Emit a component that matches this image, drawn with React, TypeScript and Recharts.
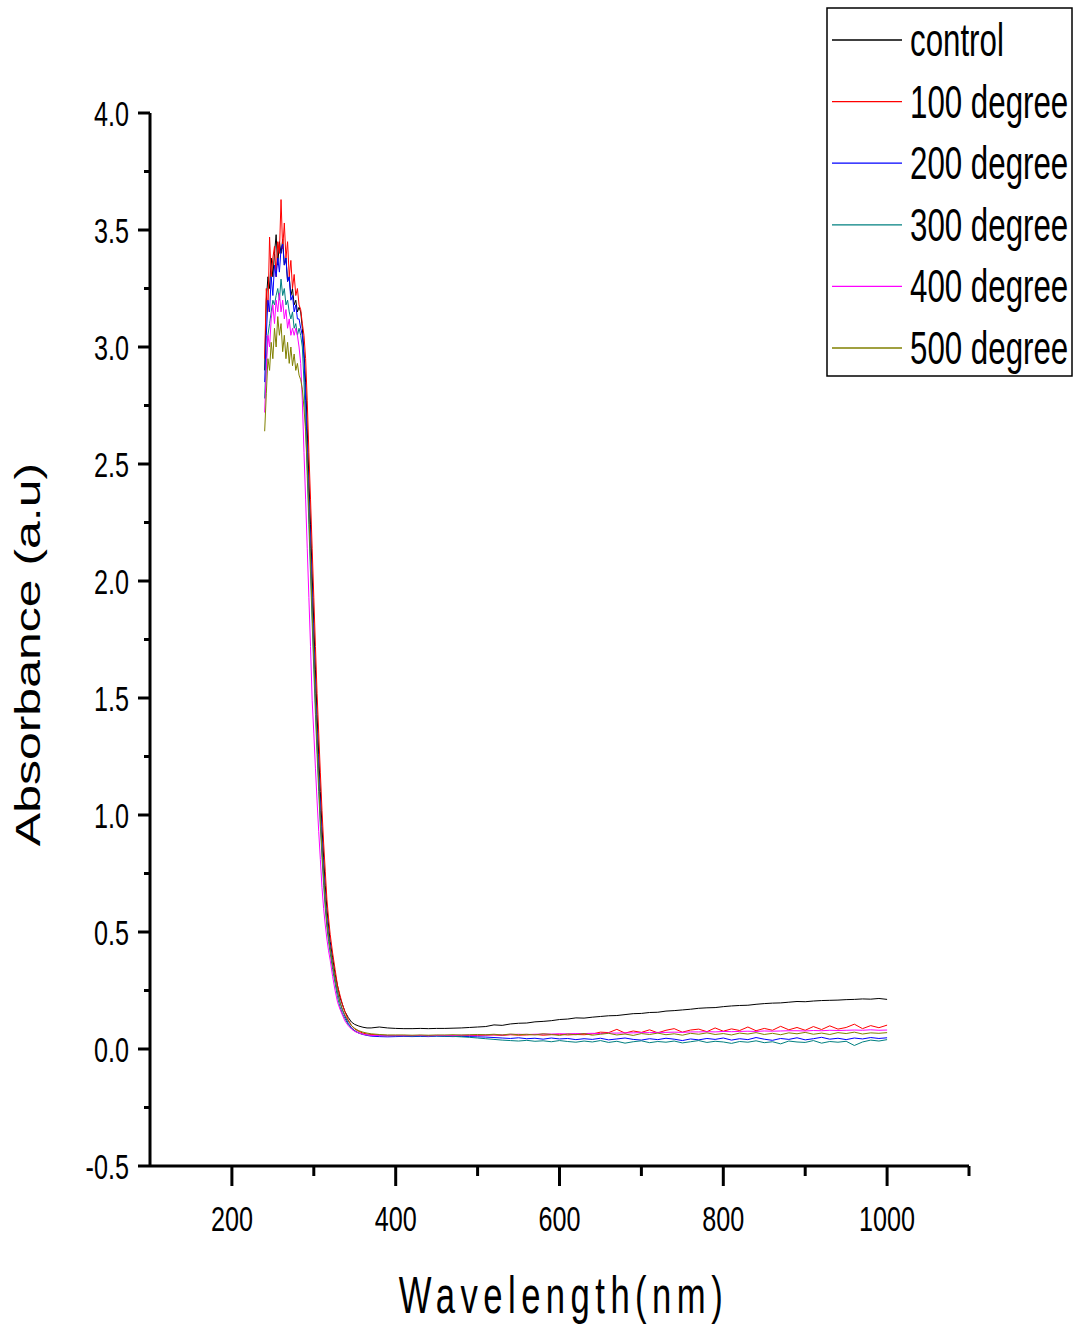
import React from 'react';
import { LineChart, Line, XAxis, YAxis } from 'recharts';

const wavelengths = [
  240, 242, 244, 246, 248, 250, 252, 254, 256, 258,
  260, 262, 264, 266, 268, 270, 272, 274, 276, 278,
  280, 282, 284, 286, 288, 290, 292, 294, 296, 298,
  300, 302, 304, 306, 308, 310, 312, 314, 316, 318,
  320,
  323, 326, 329, 332, 335, 338, 342, 346, 350, 355, 360, 365, 370, 380, 390, 400,
  410, 420, 430, 440, 450, 460, 470, 480, 490, 500,
  510, 520, 530, 540, 550, 560, 570, 580, 590, 600,
  610, 620, 630, 640, 650, 660, 670, 680, 690, 700,
  710, 720, 730, 740, 750, 760, 770, 780, 790, 800,
  810, 820, 830, 840, 850, 860, 870, 880, 890, 900,
  910, 920, 930, 940, 950, 960, 970, 980, 990, 1000,
];

const control = [
  2.90, 3.20, 3.30, 3.25, 3.38, 3.30, 3.40, 3.48, 3.35, 3.45,
  3.40, 3.46, 3.35, 3.38, 3.28, 3.30, 3.22, 3.25, 3.18, 3.20,
  3.15, 3.17, 3.15, 3.08, 2.98, 2.85, 2.65, 2.44, 2.24, 2.03,
  1.82, 1.62, 1.43, 1.26, 1.10, 0.95, 0.82, 0.70, 0.60, 0.53,
  0.46,
  0.39, 0.32, 0.27, 0.22, 0.19, 0.16, 0.135, 0.115, 0.105, 0.098, 0.093, 0.090, 0.090, 0.094, 0.090, 0.088,
  0.087, 0.087, 0.088, 0.087, 0.088, 0.088, 0.089, 0.090, 0.092, 0.094,
  0.096, 0.103, 0.101, 0.107, 0.110, 0.111, 0.116, 0.118, 0.121, 0.126,
  0.128, 0.133, 0.132, 0.136, 0.139, 0.142, 0.143, 0.147, 0.151, 0.152,
  0.156, 0.157, 0.162, 0.164, 0.167, 0.170, 0.174, 0.176, 0.177, 0.181,
  0.184, 0.186, 0.187, 0.191, 0.194, 0.196, 0.197, 0.200, 0.203, 0.202,
  0.205, 0.207, 0.208, 0.209, 0.211, 0.212, 0.214, 0.213, 0.216, 0.212,
];

const deg100 = [
  2.95, 3.25, 3.15, 3.47, 3.30, 3.38, 3.43, 3.30, 3.45, 3.40,
  3.63, 3.42, 3.53, 3.38, 3.45, 3.30, 3.37, 3.25, 3.31, 3.22,
  3.25, 3.18, 3.16, 3.10, 3.05, 2.95, 2.77, 2.55, 2.35, 2.14,
  1.93, 1.72, 1.52, 1.35, 1.18, 1.02, 0.88, 0.76, 0.64, 0.56,
  0.49,
  0.41, 0.34, 0.27, 0.23, 0.19, 0.16, 0.125, 0.10, 0.085, 0.075, 0.068, 0.064, 0.062, 0.060, 0.058, 0.058,
  0.058, 0.057, 0.058, 0.057, 0.058, 0.057, 0.058, 0.057, 0.058, 0.058,
  0.059, 0.060, 0.058, 0.061, 0.059, 0.060, 0.062, 0.059, 0.061, 0.063,
  0.060, 0.062, 0.061, 0.064, 0.072, 0.070, 0.084, 0.068, 0.077, 0.071,
  0.082, 0.069, 0.080, 0.087, 0.072, 0.081, 0.085, 0.074, 0.090, 0.076,
  0.086, 0.079, 0.094, 0.078, 0.088, 0.080, 0.097, 0.082, 0.092, 0.080,
  0.096, 0.083, 0.099, 0.085, 0.092, 0.106, 0.087, 0.100, 0.091, 0.102,
];

const deg200 = [
  2.85, 3.05, 3.20, 3.15, 3.30, 3.22, 3.35, 3.30, 3.38, 3.32,
  3.42, 3.44, 3.35, 3.38, 3.28, 3.30, 3.20, 3.22, 3.15, 3.18,
  3.12, 3.12, 3.08, 3.05, 2.95, 2.77, 2.55, 2.35, 2.14, 1.93,
  1.72, 1.52, 1.35, 1.18, 1.02, 0.88, 0.76, 0.64, 0.56, 0.49,
  0.44,
  0.36, 0.30, 0.24, 0.20, 0.165, 0.14, 0.11, 0.09, 0.078, 0.068, 0.062, 0.058, 0.055, 0.053, 0.052, 0.053,
  0.054, 0.053, 0.054, 0.053, 0.055, 0.054, 0.053, 0.054, 0.053, 0.052,
  0.051, 0.049, 0.047, 0.045, 0.048, 0.044, 0.046, 0.042, 0.047, 0.043,
  0.045, 0.040, 0.044, 0.041, 0.046, 0.039, 0.043, 0.047, 0.041, 0.038,
  0.044, 0.040, 0.046, 0.042, 0.036, 0.043, 0.039, 0.045, 0.041, 0.047,
  0.038, 0.044, 0.040, 0.049, 0.042, 0.037, 0.045, 0.041, 0.048, 0.039,
  0.044, 0.050, 0.042, 0.046, 0.040, 0.047, 0.043, 0.049, 0.045, 0.048,
];

const deg300 = [
  2.78, 2.95, 3.05, 3.10, 3.15, 3.20, 3.18, 3.22, 3.25, 3.20,
  3.29, 3.22, 3.25, 3.18, 3.20, 3.15, 3.12, 3.15, 3.08, 3.10,
  3.05, 3.08, 3.05, 3.00, 2.85, 2.66, 2.45, 2.24, 2.03, 1.82,
  1.62, 1.43, 1.26, 1.10, 0.95, 0.82, 0.70, 0.60, 0.52, 0.46,
  0.41,
  0.34, 0.28, 0.22, 0.18, 0.15, 0.13, 0.105, 0.088, 0.077, 0.068, 0.063, 0.060, 0.058, 0.057, 0.056, 0.056,
  0.056, 0.055, 0.056, 0.055, 0.056, 0.055, 0.054, 0.052, 0.050, 0.047,
  0.044, 0.041, 0.038, 0.036, 0.034, 0.037, 0.033, 0.035, 0.031, 0.036,
  0.032, 0.029, 0.034, 0.030, 0.036, 0.028, 0.033, 0.025, 0.031, 0.035,
  0.027, 0.032, 0.029, 0.034, 0.026, 0.031, 0.036, 0.028, 0.033, 0.030,
  0.024, 0.032, 0.029, 0.035, 0.027, 0.031, 0.022, 0.034, 0.030, 0.028,
  0.036, 0.025, 0.032, 0.029, 0.033, 0.015, 0.030, 0.038, 0.034, 0.040,
];

const deg400 = [
  2.72, 2.90, 3.05, 3.00, 3.12, 3.18, 3.10, 3.20, 3.15, 3.23,
  3.15, 3.20, 3.12, 3.16, 3.08, 3.12, 3.05, 3.08, 3.05, 3.08,
  3.05, 3.00, 2.93, 2.77, 2.55, 2.35, 2.14, 1.93, 1.72, 1.49,
  1.35, 1.20, 1.06, 0.93, 0.81, 0.69, 0.60, 0.53, 0.47, 0.42,
  0.38,
  0.31, 0.25, 0.20, 0.17, 0.145, 0.12, 0.10, 0.085, 0.075, 0.068, 0.063, 0.060, 0.058, 0.057, 0.056, 0.057,
  0.057, 0.057, 0.058, 0.056, 0.058, 0.058, 0.057, 0.059, 0.059, 0.060,
  0.060, 0.061, 0.060, 0.062, 0.063, 0.062, 0.063, 0.064, 0.064, 0.065,
  0.065, 0.066, 0.066, 0.067, 0.066, 0.068, 0.068, 0.069, 0.069, 0.070,
  0.070, 0.071, 0.071, 0.072, 0.071, 0.073, 0.073, 0.074, 0.073, 0.075,
  0.074, 0.075, 0.076, 0.075, 0.077, 0.076, 0.077, 0.078, 0.078, 0.077,
  0.079, 0.078, 0.080, 0.079, 0.080, 0.081, 0.080, 0.082, 0.080, 0.081,
];

const deg500 = [
  2.64, 2.80, 2.95, 2.90, 3.02, 2.95, 3.08, 3.00, 3.13, 3.05,
  3.10, 2.98, 3.05, 2.95, 3.02, 2.93, 3.00, 2.92, 2.97, 2.90,
  2.93, 2.88, 2.86, 2.82, 2.74, 2.64, 2.50, 2.30, 2.08, 1.87,
  1.67, 1.48, 1.30, 1.14, 0.98, 0.85, 0.73, 0.63, 0.54, 0.48,
  0.43,
  0.36, 0.30, 0.25, 0.20, 0.17, 0.145, 0.12, 0.10, 0.088, 0.078, 0.072, 0.068, 0.065, 0.062, 0.060, 0.060,
  0.060, 0.059, 0.060, 0.059, 0.060, 0.060, 0.061, 0.060, 0.061, 0.062,
  0.061, 0.063, 0.060, 0.064, 0.061, 0.063, 0.060, 0.065, 0.062, 0.058,
  0.064, 0.061, 0.066, 0.059, 0.063, 0.067, 0.060, 0.064, 0.058, 0.066,
  0.062, 0.068, 0.061, 0.065, 0.059, 0.067, 0.063, 0.069, 0.062, 0.066,
  0.060, 0.068, 0.064, 0.070, 0.062, 0.067, 0.061, 0.069, 0.065, 0.071,
  0.063, 0.068, 0.062, 0.070, 0.066, 0.072, 0.064, 0.069, 0.067, 0.070,
];

const seriesKeys = ['control', 'd100', 'd200', 'd300', 'd400', 'd500'];
const seriesNames = ['control', '100 degree', '200 degree', '300 degree', '400 degree', '500 degree'];
const seriesColors = ['#000000', '#ff0000', '#0000ff', '#008080', '#ff00ff', '#808000'];
const seriesValues = [control, deg100, deg200, deg300, deg400, deg500];

const xTicks = [200, 300, 400, 500, 600, 700, 800, 900, 1000, 1100];
const xLabelTicks = [200, 400, 600, 800, 1000];
const yTicks = [-0.5, -0.25, 0, 0.25, 0.5, 0.75, 1, 1.25, 1.5, 1.75, 2, 2.25, 2.5, 2.75, 3, 3.25, 3.5, 3.75, 4];
const yLabelTicks = [-0.5, 0, 0.5, 1, 1.5, 2, 2.5, 3, 3.5, 4];

const data = wavelengths.map((w, i) => {
  const row: Record<string, number> = { w };
  seriesKeys.forEach((k, j) => {
    row[k] = seriesValues[j][i];
  });
  return row;
});

const FONT = '"Liberation Sans", Arial, sans-serif';

function YTick(props: any) {
  const { x, y, payload } = props;
  const v = Number(payload.value);
  const major = yLabelTicks.some((t) => Math.abs(t - v) < 1e-6);
  return (
    <g>
      <line x1={x} y1={y} x2={x - (major ? 12 : 6)} y2={y} stroke="#000" strokeWidth={3} />
      {major && (
        <text
          transform={`translate(${x - 21},${y + 13}) scale(0.7,1)`}
          textAnchor="end"
          fontSize={36}
          fontFamily={FONT}
          fill="#000"
        >
          {v.toFixed(1)}
        </text>
      )}
    </g>
  );
}

function XTick(props: any) {
  const { x, y, payload } = props;
  const v = Number(payload.value);
  const major = xLabelTicks.includes(v);
  return (
    <g>
      <line x1={x} y1={y} x2={x} y2={y + (major ? 20 : 10)} stroke="#000" strokeWidth={3} />
      {major && (
        <text
          transform={`translate(${x},${y + 65}) scale(0.7,1)`}
          textAnchor="middle"
          fontSize={36}
          fontFamily={FONT}
          fill="#000"
        >
          {v}
        </text>
      )}
    </g>
  );
}

function XTitle(props: any) {
  const vb = props.viewBox || { x: 150, y: 1166, width: 819, height: 60 };
  const cx = vb.x + vb.width / 2;
  return (
    <text
      transform={`translate(${cx + 4},${vb.y + 147}) scale(0.68,1)`}
      textAnchor="middle"
      fontSize={51}
      letterSpacing={8}
      fontFamily={FONT}
      fill="#000"
    >
      Wavelength(nm)
    </text>
  );
}

function YTitle(props: any) {
  const vb = props.viewBox || { x: 90, y: 113, width: 60, height: 1053 };
  const cy = vb.y + vb.height / 2 + 15;
  return (
    <text
      transform={`translate(40,${cy}) rotate(-90) scale(1,0.7)`}
      textAnchor="middle"
      fontSize={50}
      fontFamily={FONT}
      fill="#000"
    >
      Absorbance (a.u)
    </text>
  );
}

function LegendBox() {
  const rowH = 61.6;
  return (
    <svg
      width={248}
      height={372}
      style={{ position: 'absolute', left: 826, top: 7 }}
    >
      <rect x={1} y={1} width={245} height={368} fill="#fff" stroke="#000" strokeWidth={1.5} />
      {seriesNames.map((name, i) => {
        const cy = 33 + i * rowH;
        return (
          <g key={name}>
            <line x1={6} x2={76} y1={cy} y2={cy} stroke={seriesColors[i]} strokeWidth={1.3} />
            <text
              transform={`translate(84,${cy + 16}) scale(0.68,1)`}
              fontSize={46}
              fontFamily={FONT}
              fill="#000"
            >
              {name}
            </text>
          </g>
        );
      })}
    </svg>
  );
}

export default function App() {
  return (
    <div style={{ position: 'absolute', left: 0, top: 0, width: 1084, height: 1324, background: '#fff' }}>
      <LineChart
        width={1084}
        height={1324}
        data={data}
        margin={{ top: 113, right: 115, left: 90, bottom: 98 }}
      >
        <XAxis
          dataKey="w"
          type="number"
          domain={[100, 1100]}
          ticks={xTicks}
          interval={0}
          tickSize={0}
          tickMargin={0}
          tickLine={false}
          axisLine={{ stroke: '#000', strokeWidth: 3 }}
          tick={(p: any) => <XTick {...p} />}
          height={60}
          label={{ content: (p: any) => <XTitle {...p} /> }}
        />
        <YAxis
          type="number"
          domain={[-0.5, 4]}
          ticks={yTicks}
          interval={0}
          tickSize={0}
          tickMargin={0}
          tickLine={false}
          axisLine={{ stroke: '#000', strokeWidth: 3 }}
          tick={(p: any) => <YTick {...p} />}
          width={60}
          allowDataOverflow
          label={{ content: (p: any) => <YTitle {...p} /> }}
        />
        {seriesKeys.map((k, i) => (
          <Line
            key={k}
            dataKey={k}
            name={seriesNames[i]}
            stroke={seriesColors[i]}
            strokeWidth={1}
            dot={false}
            type="linear"
            isAnimationActive={false}
          />
        ))}
      </LineChart>
      <LegendBox />
    </div>
  );
}
